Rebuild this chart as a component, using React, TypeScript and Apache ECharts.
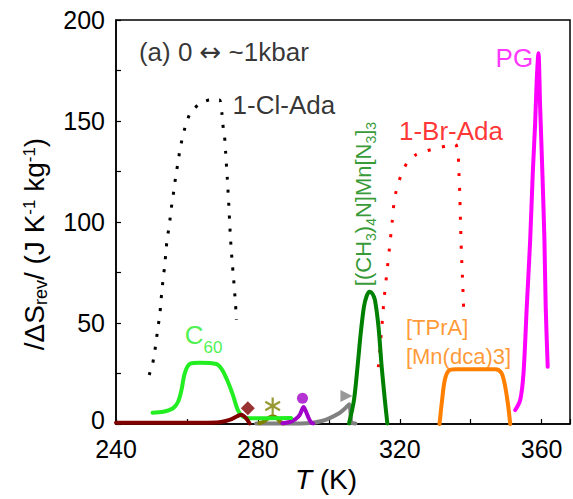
import React, { useEffect, useRef } from 'react';
import * as echarts from 'echarts';

const FONT = '"Liberation Sans", Arial, Helvetica, sans-serif';

const xTickLabels = [240, 280, 320, 360];
const yTickLabels = [0, 50, 100, 150, 200];

// 1-Cl-Ada (black dotted)
const clAda: number[][] = [
  [249.35, 24.3], [250.31, 29.7], [250.96, 36.3], [251.43, 42.4], [251.88, 48.5], [252.36, 54.0],
  [252.64, 60.5], [253.01, 66.7], [253.29, 72.4], [253.76, 78.4], [254.04, 84.8], [254.41, 91.4],
  [254.97, 97.7], [255.37, 103.5], [255.81, 109.8], [256.38, 116.3], [256.85, 122.9], [257.5, 129.6],
  [257.98, 135.3], [258.74, 141.9], [259.66, 148.0], [260.79, 153.3], [263.4, 158.4], [266.4, 160.4],
  [269.21, 160.4], [269.86, 153.8], [270.14, 148.0], [270.62, 141.9], [270.9, 134.8], [271.1, 129.1],
  [271.38, 121.6], [271.83, 107.6], [272.22, 93.6], [272.5, 86.1], [272.78, 79.6], [273.15, 72.1],
  [273.43, 65.5], [273.71, 59.4], [273.9, 51.5],
];
// 1-Br-Ada (red dotted)
const brAda: number[][] = [
  [313.96, 28.2], [314.92, 47.4], [315.56, 61.4], [316.32, 74.1], [317.16, 88.1], [317.89, 100.6],
  [318.57, 112.2], [319.58, 118.8], [320.53, 124.1], [322.11, 129.4], [324.47, 133.2], [327.72, 135.3],
  [330.53, 136.5], [333.06, 137.6], [335.7, 138.6], [336.43, 134.0], [336.63, 126.6], [336.91, 115.0],
  [337.11, 101.0], [337.39, 84.5], [337.75, 69.7], [338.03, 55.6],
];
// C60 (bright green)
const c60: number[][] = [
  [250.31, 5.6], [253.29, 6.1], [256.1, 7.8], [257.5, 11.0], [258.46, 16.8], [259.38, 25.1],
  [260.79, 29.7], [263.6, 30.3], [268.29, 29.7], [269.97, 26.7], [271.54, 20.9], [272.95, 14.4],
  [274.35, 6.9], [275.76, 3.6], [277.64, 2.8], [289.35, 3.0],
];
// dark red curve + diamond
const maroon: number[][] = [
  [240, 0.6], [262, 0.6], [268.3, 0.7], [272.0, 2.0], [274.35, 4.0], [275.3, 4.6], [276.7, 2.8], [277.64, 0.3],
];
const maroonMarker: number[][] = [[277.16, 7.8]];
// olive curve + asterisk
const olive: number[][] = [
  [280.4, 0.4], [281.8, 1.3], [283.0, 3.0], [284.2, 3.8], [285.3, 3.0], [286.3, 1.2], [287.2, 0.3],
];
const oliveMarker: number[][] = [[284.17, 8.9]];
// purple curve + circle
const purple: number[][] = [
  [286.9, 0.4], [289.0, 1.0], [290.7, 2.5], [291.8, 4.5], [292.9, 8.4], [293.6, 6.0], [294.3, 3.0], [295.0, 0.8], [295.6, 0.3],
];
const purpleMarker: number[][] = [[292.58, 12.7]];
// gray curve + triangle
const gray: number[][] = [
  [279.5, 0.3], [292.0, 0.3], [295.4, 0.6], [298.0, 1.5], [300.1, 2.8], [302.9, 5.3], [304.4, 7.4],
  [305.4, 9.2], [305.8, 9.8], [306.1, 6.0], [306.4, 0.6], [307.5, 0.3],
];
const grayMarker: number[][] = [[304.97, 13.9]];
// [(CH3)4N]Mn[N3]3 (dark green)
const tmaMn: number[][] = [
  [305.7, 0.3], [307.1, 11.9], [308.1, 28.4], [309.0, 44.9], [309.9, 58.0], [310.7, 63.5], [311.5, 65.5],
  [312.3, 64.5], [313.0, 61.4], [314.0, 48.2], [314.9, 28.4], [315.8, 11.9], [316.5, 0.3],
];
// [TPrA][Mn(dca)3] (orange)
const tpra: number[][] = [
  [331.21, 0], [331.94, 11.9], [332.7, 21.8], [333.82, 26.4], [335.7, 27.1], [346.94, 27.1],
  [348.62, 25.4], [349.55, 20.1], [350.48, 10.2], [351.15, 0],
];
// PG (magenta)
const pg: number[][] = [
  [352.56, 6.9], [353.96, 11.9], [354.89, 25.1], [355.81, 58.0], [356.77, 91.0], [357.5, 124.0],
  [358.17, 148.8], [358.62, 170.3], [359.1, 183.5], [359.58, 157.0], [360.22, 124.0], [360.79, 91.0],
  [361.15, 58.0], [361.71, 28.4],
];

function asteriskPath(): string {
  const L = 10, W = 1.3;
  const parts: string[] = [];
  [0, 60, 120].forEach((a) => {
    const r = (a * Math.PI) / 180;
    const dx = Math.sin(r), dy = -Math.cos(r);
    const px = -dy, py = dx;
    const pts = [[-L, -W], [L, -W], [L, W], [-L, W]].map(([t, w]) => [t * dx + w * px, t * dy + w * py]);
    parts.push('M' + pts.map((p) => p[0].toFixed(3) + ',' + p[1].toFixed(3)).join('L') + 'Z');
  });
  return 'path://' + parts.join('');
}

const solid = (data: number[][], color: string, z = 3) => ({
  type: 'line', data, symbol: 'none', showSymbol: false, smooth: 0.3, silent: true, z,
  lineStyle: { color, width: 4, cap: 'round', join: 'round' },
});
const dotted = (data: number[][], color: string, dash: number[]) => ({
  type: 'line', data, symbol: 'none', showSymbol: false, smooth: 0.2, silent: true, z: 2,
  lineStyle: { color, width: 3, type: dash, cap: 'butt' },
});
const marker = (data: number[][], color: string, symbol: string, size: number, rotate = 0) => ({
  type: 'scatter', data, symbol, symbolSize: size, symbolRotate: rotate, symbolKeepAspect: true,
  silent: true, z: 5, itemStyle: { color },
});

export default function App() {
  const ref = useRef<HTMLDivElement>(null);
  useEffect(() => {
    document.body.style.margin = '0';
    const chart = echarts.init(ref.current!, null, { renderer: 'svg' });
    const txt = (color: string, fontSize: number) => ({ color, fontSize, fontFamily: FONT });
    chart.setOption({
      animation: false,
      textStyle: { fontFamily: FONT },
      grid: { left: 116, right: 1, top: 20, bottom: 75, show: true, borderColor: '#000', borderWidth: 1.5, backgroundColor: 'transparent' },
      xAxis: {
        type: 'value', min: 240, max: 368, interval: 20,
        axisLine: { show: true, onZero: false, lineStyle: { color: '#000', width: 1.5 } },
        axisTick: { show: true, inside: true, length: 5, lineStyle: { color: '#000', width: 1.2 } },
        splitLine: { show: false },
        axisLabel: {
          show: true, interval: 0, margin: 12, color: '#000', fontSize: 25, fontFamily: FONT,
          formatter: (v: number) => (xTickLabels.indexOf(Math.round(v)) >= 0 ? String(Math.round(v)) : ''),
        },
        name: '{it|T}{n| (K)}', nameLocation: 'middle', nameGap: 35,
        nameTextStyle: {
          padding: [0, 34, 0, 0],
          rich: {
            it: { fontSize: 28, fontStyle: 'italic', color: '#000', fontFamily: FONT },
            n: { fontSize: 28, color: '#000', fontFamily: FONT },
          },
        },
      },
      yAxis: {
        type: 'value', min: 0, max: 200, interval: 25,
        axisLine: { show: true, onZero: false, lineStyle: { color: '#000', width: 1.5 } },
        axisTick: { show: true, inside: true, length: 5, lineStyle: { color: '#000', width: 1.2 } },
        splitLine: { show: false },
        axisLabel: {
          show: true, interval: 0, margin: 11, color: '#000', fontSize: 25, fontFamily: FONT,
          formatter: (v: number) => {
            const r = Math.round(v);
            if (yTickLabels.indexOf(r) < 0) return '';
            return r === 0 ? '{z|0}' : String(r);
          },
          rich: { z: { fontSize: 25, color: '#000', fontFamily: FONT, padding: [0, 0, 8, 0] } },
        },
      },
      graphic: [
        {
          type: 'text', x: 41, y: 244, rotation: Math.PI / 2, silent: true,
          style: {
            text: '{n|/ΔS}{sub|rev}{n|/ (J K}{sup|-1}{n| kg}{sup|-1}{n|)}',
            align: 'center', verticalAlign: 'middle', fill: '#000',
            rich: {
              n: { fontSize: 28, height: 34, verticalAlign: 'top', fill: '#000', fontFamily: FONT },
              sub: { fontSize: 18, height: 47, verticalAlign: 'top', fill: '#000', fontFamily: FONT },
              sup: { fontSize: 17, height: 23, verticalAlign: 'top', fill: '#000', fontFamily: FONT },
            },
          },
        },
      ],
      series: [
        dotted(clAda, '#000000', [3, 10]),
        dotted(brAda, '#ff0000', [3, 11.5]),
        solid(gray, '#808080', 3),
        solid(olive, '#808000', 3),
        solid(purple, '#a000c8', 3),
        solid(c60, '#22ee22', 3),
        solid(maroon, '#800000', 4),
        solid(tmaMn, '#008000', 4),
        solid(tpra, '#ff8000', 4),
        solid(pg, '#ff00ff', 4),
        marker(maroonMarker, '#800000', 'diamond', 14),
        marker(oliveMarker, '#808000', asteriskPath(), 17),
        marker(purpleMarker, '#a000c8', 'circle', 11),
        marker(grayMarker, '#808080', 'triangle', 12, -90),
        {
          type: 'scatter', silent: true, symbolSize: 0, z: 6, itemStyle: { color: 'transparent' },
          data: [
            {
              value: [246.46, 184.2],
              label: {
                show: true, position: 'right', distance: 0, formatter: '{t|(a) 0 }{a|↔}{t| ~1kbar}',
                rich: {
                  t: { ...txt('#000', 26) },
                  a: { color: '#000', fontSize: 26, fontFamily: '"DejaVu Sans", sans-serif' },
                },
              },
            },
            { value: [272.87, 157.9], label: { show: true, position: 'right', distance: 0, formatter: '1-Cl-Ada', ...txt('#000', 26) } },
            { value: [319.78, 145.0], label: { show: true, position: 'right', distance: 0, formatter: '1-Br-Ada', ...txt('#ff0000', 26) } },
            { value: [347.02, 181.2], label: { show: true, position: 'right', distance: 0, formatter: 'PG', ...txt('#ff00ff', 26) } },
            { value: [321.74, 40.6], label: { show: true, position: 'right', distance: 0, formatter: '[TPrA]\n[Mn(dca)3]', lineHeight: 29, ...txt('#ff8000', 22) } },
            {
              value: [259.38, 38.0],
              label: {
                show: true, position: 'right', distance: 0, formatter: '{m|C}{s|60}',
                rich: {
                  m: { fontSize: 26, height: 26, verticalAlign: 'top', color: '#22ee22', fontFamily: FONT },
                  s: { fontSize: 17, height: 50, verticalAlign: 'top', color: '#22ee22', fontFamily: FONT },
                },
              },
            },
            {
              value: [311.8, 108.9],
              label: {
                show: true, position: 'inside', rotate: 90,
                formatter: '{m|[(CH}{s|3}{m|)}{s|4}{m|N]Mn[N}{s|3}{m|]}{s|3}',
                rich: {
                  m: { fontSize: 22, height: 26, verticalAlign: 'top', color: '#008000', fontFamily: FONT },
                  s: { fontSize: 14, height: 40, verticalAlign: 'top', color: '#008000', fontFamily: FONT },
                },
              },
            },
          ],
        },
      ],
    });
    return () => chart.dispose();
  }, []);
  return <div ref={ref} style={{ width: 573, height: 499 }} />;
}
